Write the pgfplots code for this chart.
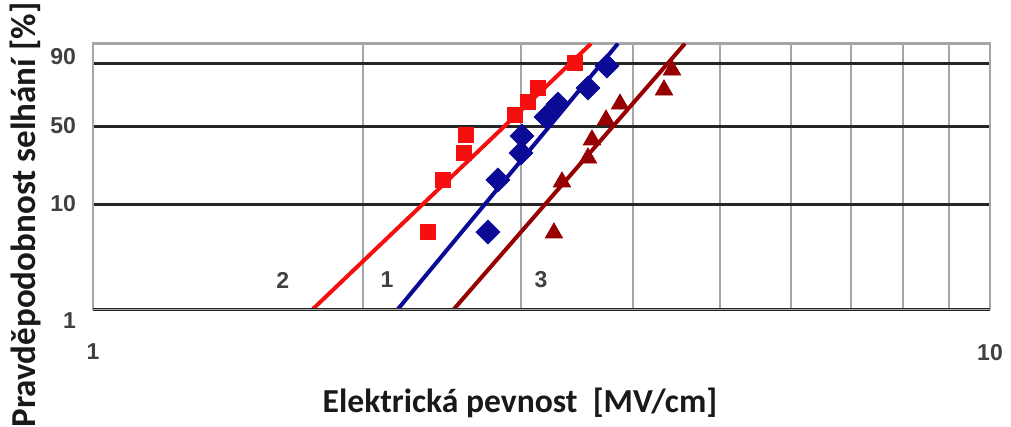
\documentclass[border=0pt]{standalone}
\usepackage{pgfplots}
\pgfplotsset{compat=1.18}
\usepackage{fontspec}
\setmainfont{Carlito}
\newfontfamily\tickfont{Liberation Sans}
\definecolor{cred}{RGB}{245,15,15}
\definecolor{cblue}{RGB}{10,10,150}
\definecolor{cdred}{RGB}{150,0,0}
\begin{document}
\begin{tikzpicture}
\path[use as bounding box] (-46.5bp,-59bp) rectangle (459bp,154.5bp);
\begin{axis}[
 at={(0bp,0bp)}, anchor=south west,
 scale only axis, width=448.5bp, height=132.75bp,
 xmode=log, xmin=1, xmax=10, ymin=0, ymax=2.529,
 xtick={1,10}, xticklabels={1,10},
 minor xtick={2,3,4,5,6,7,8,9},
 ytick={0,1,1.743,2.343},
 yticklabels={\raisebox{-6bp}[\height][\depth]{1},10,50,\raisebox{3bp}[\height][\depth]{90}},
 major tick length=0pt, minor tick length=0pt,
 xminorgrids, ymajorgrids,
 minor grid style={gray!70, line width=0.8bp},
 major grid style={black!85, line width=1.5bp},
 axis line style={gray!70, line width=1.2bp},
 ticklabel style={font=\tickfont\bfseries\fontsize{11.5bp}{13bp}\selectfont, text=black!75},
 xticklabel style={yshift=-14bp},
 yticklabel style={xshift=-5bp},
 xlabel={Elektrická pevnost\ \ [MV/cm]},
 ylabel={Pravděpodobnost selhání [\%]},
 label style={text=black!90},
 xlabel style={font=\bfseries\fontsize{16.8bp}{19bp}\selectfont, at={(axis description cs:0.476,-0.354)}, anchor=center},
 ylabel style={font=\bfseries\fontsize{17.5bp}{20bp}\selectfont, at={(axis description cs:-0.0758,0.354)}, anchor=center},
]
% red squares (curve 2)
\addplot[only marks, mark=square*, mark size=3.8bp, color=cred] coordinates {
 (2.363,0.733) (2.456,1.229) (2.593,1.486) (2.605,1.657)
 (2.954,1.848) (3.054,1.971) (3.134,2.105) (3.446,2.343)};
% blue diamonds (curve 1)
\addplot[only marks, mark=square*, mark options={rotate=45}, mark size=4.2bp, color=cblue] coordinates {
 (2.756,0.733) (2.828,1.229) (3.000,1.486) (3.008,1.648)
 (3.199,1.829) (3.299,1.952) (3.563,2.105) (3.741,2.314)};
% dark red triangles (curve 3)
\addplot[only marks, mark=triangle*, mark size=5bp, color=cdred] coordinates {
 (3.265,0.724) (3.333,1.210) (3.563,1.438) (3.600,1.610)
 (3.732,1.800) (3.869,1.952) (4.331,2.086) (4.421,2.276)};
% fitted lines
\addplot[cred, line width=2bp] coordinates {(1.759,0) (3.592,2.529)};
\addplot[cblue, line width=2bp] coordinates {(2.188,0) (3.849,2.529)};
\addplot[cdred, line width=2bp] coordinates {(2.526,0) (4.571,2.529)};
\draw[black!85, line width=1.5bp] (rel axis cs:0,0) -- (rel axis cs:1,0);
\node[font=\tickfont\bfseries\fontsize{11.5bp}{13bp}\selectfont, text=black!75] at (axis cs:1.628,0.276) {2};
\node[font=\tickfont\bfseries\fontsize{11.5bp}{13bp}\selectfont, text=black!75] at (axis cs:2.127,0.276) {1};
\node[font=\tickfont\bfseries\fontsize{11.5bp}{13bp}\selectfont, text=black!75] at (axis cs:3.158,0.276) {3};
\end{axis}
\end{tikzpicture}
\end{document}
